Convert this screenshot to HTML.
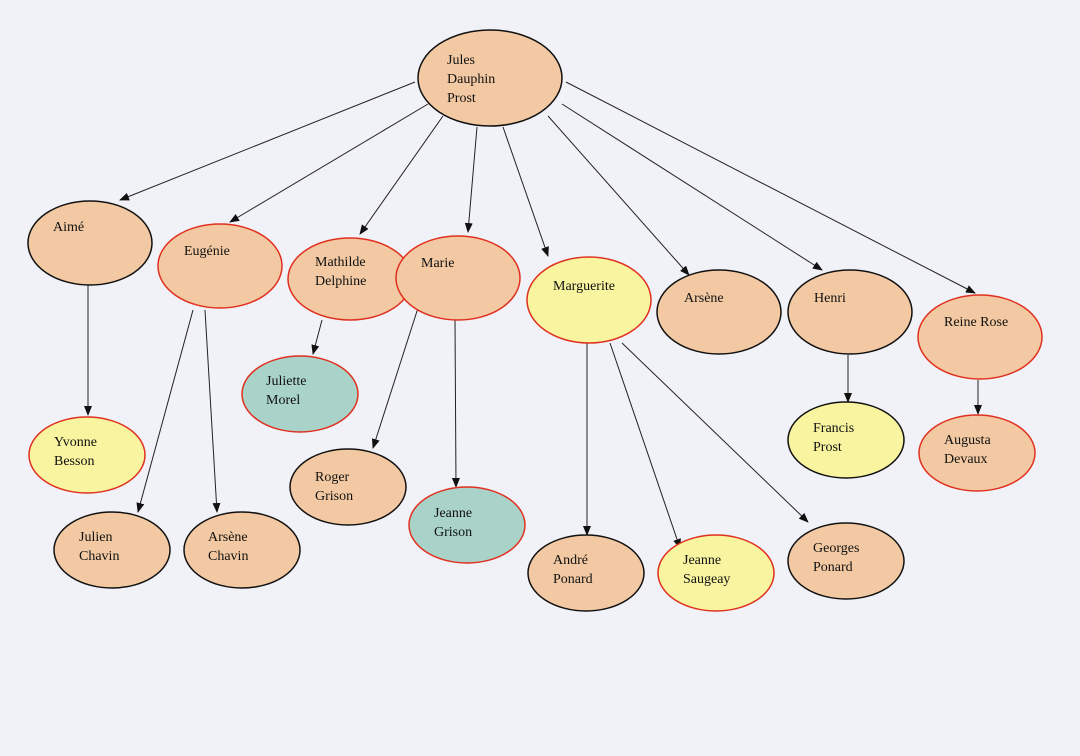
<!DOCTYPE html>
<html><head><meta charset="utf-8"><style>
html,body{margin:0;padding:0;background:#f1f1f8;}
svg{display:block}
text{font-family:"Liberation Serif",serif;font-size:14px;fill:#111}
</style></head><body>
<svg width="1080" height="756" viewBox="0 0 1080 756" xmlns="http://www.w3.org/2000/svg">
<defs><marker id="a" markerWidth="10" markerHeight="8" refX="9" refY="4" orient="auto" markerUnits="userSpaceOnUse"><path d="M0,0 L10,4 L0,8 z" fill="#111"/></marker></defs>
<rect width="1080" height="756" fill="#f1f1f8"/>
<g stroke="#222" stroke-width="1" marker-end="url(#a)">
<line x1="415" y1="82" x2="120" y2="200"/>
<line x1="428" y1="104" x2="230" y2="222"/>
<line x1="443" y1="116" x2="360" y2="234"/>
<line x1="477" y1="127" x2="468" y2="232"/>
<line x1="503" y1="127" x2="548" y2="256"/>
<line x1="548" y1="116" x2="689" y2="275"/>
<line x1="562" y1="104" x2="822" y2="270"/>
<line x1="566" y1="82" x2="975" y2="293"/>
<line x1="88" y1="285" x2="88" y2="415"/>
<line x1="193" y1="310" x2="138" y2="512"/>
<line x1="205" y1="310" x2="217" y2="512"/>
<line x1="322" y1="320" x2="313" y2="354"/>
<line x1="418" y1="308" x2="373" y2="448"/>
<line x1="455" y1="320" x2="456" y2="487"/>
<line x1="587" y1="343" x2="587" y2="535"/>
<line x1="610" y1="343" x2="680" y2="548"/>
<line x1="622" y1="343" x2="808" y2="522"/>
<line x1="848" y1="355" x2="848" y2="402"/>
<line x1="978" y1="380" x2="978" y2="414"/>
</g>
<g stroke-width="1.5">
<ellipse cx="490" cy="78" rx="72" ry="48" fill="#f2c9a2" stroke="#111"/>
<ellipse cx="90" cy="243" rx="62" ry="42" fill="#f2c9a2" stroke="#111"/>
<ellipse cx="220" cy="266" rx="62" ry="42" fill="#f2c9a2" stroke="#e0301e"/>
<ellipse cx="350" cy="279" rx="62" ry="41" fill="#f2c9a2" stroke="#e0301e"/>
<ellipse cx="458" cy="278" rx="62" ry="42" fill="#f2c9a2" stroke="#e0301e"/>
<ellipse cx="589" cy="300" rx="62" ry="43" fill="#f8f4a0" stroke="#e0301e"/>
<ellipse cx="719" cy="312" rx="62" ry="42" fill="#f2c9a2" stroke="#111"/>
<ellipse cx="850" cy="312" rx="62" ry="42" fill="#f2c9a2" stroke="#111"/>
<ellipse cx="980" cy="337" rx="62" ry="42" fill="#f2c9a2" stroke="#e0301e"/>
<ellipse cx="300" cy="394" rx="58" ry="38" fill="#a9d2c9" stroke="#e0301e"/>
<ellipse cx="87" cy="455" rx="58" ry="38" fill="#f8f4a0" stroke="#e0301e"/>
<ellipse cx="112" cy="550" rx="58" ry="38" fill="#f2c9a2" stroke="#111"/>
<ellipse cx="242" cy="550" rx="58" ry="38" fill="#f2c9a2" stroke="#111"/>
<ellipse cx="348" cy="487" rx="58" ry="38" fill="#f2c9a2" stroke="#111"/>
<ellipse cx="467" cy="525" rx="58" ry="38" fill="#a9d2c9" stroke="#e0301e"/>
<ellipse cx="586" cy="573" rx="58" ry="38" fill="#f2c9a2" stroke="#111"/>
<ellipse cx="716" cy="573" rx="58" ry="38" fill="#f8f4a0" stroke="#e0301e"/>
<ellipse cx="846" cy="561" rx="58" ry="38" fill="#f2c9a2" stroke="#111"/>
<ellipse cx="846" cy="440" rx="58" ry="38" fill="#f8f4a0" stroke="#111"/>
<ellipse cx="977" cy="453" rx="58" ry="38" fill="#f2c9a2" stroke="#e0301e"/>
</g>
<text x="447" y="64">Jules</text><text x="447" y="83">Dauphin</text><text x="447" y="102">Prost</text>
<text x="53" y="231">Aimé</text>
<text x="184" y="255">Eugénie</text>
<text x="315" y="266">Mathilde</text><text x="315" y="285">Delphine</text>
<text x="421" y="267">Marie</text>
<text x="553" y="290">Marguerite</text>
<text x="684" y="302">Arsène</text>
<text x="814" y="302">Henri</text>
<text x="944" y="326">Reine Rose</text>
<text x="266" y="385">Juliette</text><text x="266" y="404">Morel</text>
<text x="54" y="446">Yvonne</text><text x="54" y="465">Besson</text>
<text x="79" y="541">Julien</text><text x="79" y="560">Chavin</text>
<text x="208" y="541">Arsène</text><text x="208" y="560">Chavin</text>
<text x="315" y="481">Roger</text><text x="315" y="500">Grison</text>
<text x="434" y="517">Jeanne</text><text x="434" y="536">Grison</text>
<text x="553" y="564">André</text><text x="553" y="583">Ponard</text>
<text x="683" y="564">Jeanne</text><text x="683" y="583">Saugeay</text>
<text x="813" y="552">Georges</text><text x="813" y="571">Ponard</text>
<text x="813" y="432">Francis</text><text x="813" y="451">Prost</text>
<text x="944" y="444">Augusta</text><text x="944" y="463">Devaux</text>
</svg>
</body></html>
